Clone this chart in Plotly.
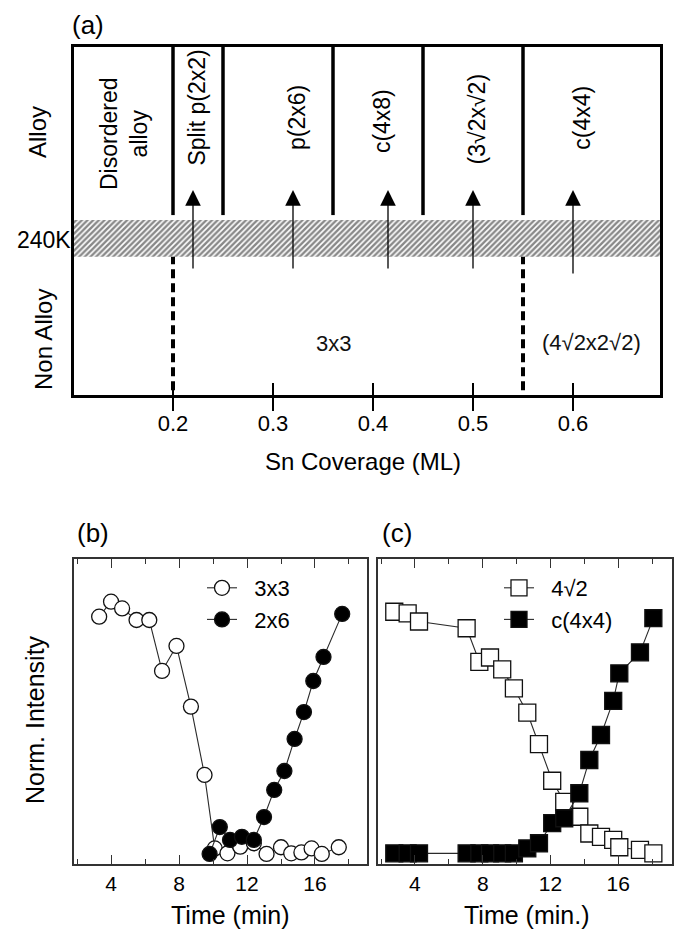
import plotly.graph_objects as go

W, H = 675, 934
FONT = "Liberation Sans, Arial, sans-serif"

# ---------------- Panel (a): phase diagram ----------------
cov_ticks = [0.2, 0.3, 0.4, 0.5, 0.6]
cov_range = [0.101, 0.687]
alloy_bounds = [0.2, 0.25, 0.36, 0.45, 0.55]      # solid boundaries (alloy phases)
nonalloy_bounds = [0.2, 0.55]                       # dashed boundaries (non-alloy phases)
band_240K = [0.397, 0.503]                          # hatched transition band (y units)
alloy_top = [0.517, 1.0]
nonalloy_span = [0.014, 0.397]
arrow_cov = [0.22, 0.32, 0.415, 0.50, 0.60]
arrow_tail = [0.359, 0.359, 0.359, 0.359, 0.345]
arrow_tip = 0.589
alloy_labels = ["Disordered<br>alloy", "Split p(2x2)", "p(2x6)", "c(4x8)", "(3√2x√2)", "c(4x4)"]
alloy_label_x = [0.151, 0.224, 0.324, 0.409, 0.504, 0.609]
alloy_label_y = [0.75, 0.826, 0.796, 0.787, 0.792, 0.797]
nonalloy_labels = ["3x3", "(4√2x2√2)"]
nonalloy_label_x = [0.36, 0.618]
nonalloy_label_y = [0.149, 0.152]

# ---------------- Panel (b) ----------------
t_3x3 = [3.3, 4.0, 4.65, 5.5, 6.25, 7.0, 7.85, 8.7, 9.5, 10.1, 10.85, 11.6, 12.4,
         13.15, 14.0, 14.6, 15.2, 15.8, 16.4, 17.4]
i_3x3 = [0.811, 0.860, 0.838, 0.800, 0.800, 0.633, 0.715, 0.516, 0.292, 0.051, 0.035,
         0.057, 0.068, 0.033, 0.055, 0.035, 0.038, 0.051, 0.033, 0.055]
t_2x6 = [9.8, 10.4, 11.0, 11.7, 12.4, 13.0, 13.6, 14.2, 14.8, 15.35, 15.9, 16.5, 17.6]
i_2x6 = [0.033, 0.121, 0.079, 0.089, 0.079, 0.154, 0.243, 0.305, 0.410, 0.498, 0.600,
         0.679, 0.820]

# ---------------- Panel (c) ----------------
t_c = [2.78, 3.57, 4.24, 7.05, 7.8, 8.43, 9.15, 9.84, 10.63, 11.32, 12.1, 12.81,
       13.7, 14.29, 14.98, 15.7, 16.06, 17.28, 18.07]
i_4r2 = [0.827, 0.822, 0.795, 0.773, 0.663, 0.677, 0.638, 0.576, 0.496, 0.393, 0.273,
         0.204, 0.155, 0.100, 0.089, 0.079, 0.055, 0.046, 0.035]
i_c44 = [0.035, 0.035, 0.035, 0.035, 0.035, 0.035, 0.035, 0.035, 0.051, 0.068, 0.134,
         0.150, 0.232, 0.341, 0.423, 0.535, 0.625, 0.694, 0.806]

time_ticks = [4, 8, 12, 16]
time_range_b = [1.82, 19.06]
time_range_c = [1.82, 19.17]


def px(x):
    return x / W


def py(y):
    return 1 - y / H


fig = go.Figure()

# hatched 240K band
fig.add_trace(go.Scatter(
    x=[cov_range[0] - 0.01, cov_range[1] + 0.01, cov_range[1] + 0.01, cov_range[0] - 0.01],
    y=[band_240K[0], band_240K[0], band_240K[1], band_240K[1]],
    fill="toself", mode="lines", line=dict(width=0, color="rgba(0,0,0,0)"),
    fillcolor="white",
    fillpattern=dict(shape="/", size=4, solidity=0.6, fgcolor="#111111", bgcolor="white"),
    xaxis="x", yaxis="y", showlegend=False, hoverinfo="skip"))
# empty trace for overlay tick axis
fig.add_trace(go.Scatter(x=[], y=[], xaxis="x4", yaxis="y", showlegend=False))

line_col = "#2a2a2a"
mk_line = dict(color="#111111", width=1.3)
NB = "\u00a0\u00a0"

fig.add_trace(go.Scatter(
    x=t_3x3, y=i_3x3, mode="lines+markers", name=NB + "3x3",
    line=dict(color=line_col, width=1.1),
    marker=dict(symbol="circle", size=15, color="white", line=mk_line),
    xaxis="x2", yaxis="y2", legend="legend"))
fig.add_trace(go.Scatter(
    x=t_2x6, y=i_2x6, mode="lines+markers", name=NB + "2x6",
    line=dict(color=line_col, width=1.1),
    marker=dict(symbol="circle", size=15, color="black", line=mk_line),
    xaxis="x2", yaxis="y2", legend="legend"))

fig.add_trace(go.Scatter(
    x=t_c, y=i_4r2, mode="lines+markers", name=NB + "4√2",
    line=dict(color=line_col, width=1.1),
    marker=dict(symbol="square", size=17, color="white", line=mk_line),
    xaxis="x3", yaxis="y3", legend="legend2"))
fig.add_trace(go.Scatter(
    x=t_c, y=i_c44, mode="lines+markers", name=NB + "c(4x4)",
    line=dict(color=line_col, width=1.1),
    marker=dict(symbol="square", size=17, color="black", line=mk_line),
    xaxis="x3", yaxis="y3", legend="legend2"))

shapes = []
for b in alloy_bounds:
    shapes.append(dict(type="line", xref="x", yref="y", x0=b, x1=b,
                       y0=alloy_top[0], y1=alloy_top[1],
                       line=dict(color="black", width=3.5)))
for b in nonalloy_bounds:
    shapes.append(dict(type="line", xref="x", yref="y", x0=b, x1=b,
                       y0=nonalloy_span[0], y1=nonalloy_span[1],
                       line=dict(color="black", width=4, dash="9px,5px")))

ann = []
for xa, tail in zip(arrow_cov, arrow_tail):
    ann.append(dict(x=xa, y=arrow_tip, ax=xa, ay=tail, xref="x", yref="y",
                    axref="x", ayref="y", text="", showarrow=True, arrowhead=2,
                    arrowsize=2.4, arrowwidth=1.3, arrowcolor="black"))
for t, xl, yl in zip(alloy_labels, alloy_label_x, alloy_label_y):
    ann.append(dict(x=xl, y=yl, xref="x", yref="y", text=t, showarrow=False,
                    textangle=-90, font=dict(size=23, color="black", family=FONT)))
for t, xl, yl in zip(nonalloy_labels, nonalloy_label_x, nonalloy_label_y):
    ann.append(dict(x=xl, y=yl, xref="x", yref="y", text=t, showarrow=False,
                    font=dict(size=22, color="#111", family=FONT)))

def paper_text(text, x, y, size, angle=0, xanchor="center"):
    ann.append(dict(x=px(x), y=py(y), xref="paper", yref="paper", text=text,
                    showarrow=False, textangle=angle, xanchor=xanchor, yanchor="middle",
                    font=dict(size=size, color="black", family=FONT)))

paper_text("(a)", 88, 25, 26)
paper_text("(b)", 93, 533, 26)
paper_text("(c)", 397, 533, 26)
paper_text("Alloy", 38, 132, 24, -90)
paper_text("Non Alloy", 43, 340, 24, -90)
paper_text("240K", 73, 240, 23, xanchor="right")
paper_text("Sn Coverage (ML)", 363, 462, 24)
paper_text("Norm. Intensity", 35, 720, 25, -90)
paper_text("Time (min)", 230, 915, 25)
paper_text("Time (min.)", 526, 915, 25)

frame_a = dict(showline=True, linecolor="black", linewidth=3, mirror=True,
               showgrid=False, zeroline=False)
frame_bc = dict(showline=True, linecolor="#333", linewidth=1.5, showgrid=False,
                zeroline=False)
time_axis = dict(frame_bc, mirror="ticks", tickmode="array", tickvals=time_ticks,
                 ticks="inside", ticklen=9, tickwidth=1.3, tickcolor="#333",
                 ticklabelstandoff=0,
                 minor=dict(dtick=2, tick0=0, ticks="inside", ticklen=5, tickwidth=1.2,
                            tickcolor="#333"),
                 tickfont=dict(size=21, color="black", family=FONT))

fig.update_layout(
    width=W, height=H, margin=dict(l=0, r=0, t=0, b=0),
    paper_bgcolor="white", plot_bgcolor="white",
    font=dict(family=FONT, color="black"),
    xaxis=dict(frame_a, domain=[px(74), px(660)], range=cov_range, anchor="y",
               tickmode="array", tickvals=cov_ticks, ticks="outside", ticklen=13,
               tickwidth=1.5, tickcolor="black", ticklabelstandoff=-6,
               tickfont=dict(size=22, color="black", family=FONT)),
    xaxis4=dict(overlaying="x", anchor="y", range=cov_range, tickmode="array",
                tickvals=cov_ticks, ticks="inside", ticklen=12, tickwidth=1.5,
                tickcolor="black", showticklabels=False, showline=False,
                showgrid=False, zeroline=False),
    yaxis=dict(frame_a, domain=[py(395), py(47)], range=[0, 1], anchor="x",
               showticklabels=False, ticks=""),
    xaxis2=dict(time_axis, domain=[px(74), px(367)], range=time_range_b, anchor="y2"),
    yaxis2=dict(frame_bc, mirror=True, domain=[py(864), py(559)], range=[0, 1],
                anchor="x2", showticklabels=False, ticks=""),
    xaxis3=dict(time_axis, domain=[px(378), px(672)], range=time_range_c, anchor="y3"),
    yaxis3=dict(frame_bc, mirror=True, domain=[py(864), py(559)], range=[0, 1],
                anchor="x3", showticklabels=False, ticks=""),
    legend=dict(x=px(202), y=py(567), xanchor="left", yanchor="top",
                bgcolor="rgba(0,0,0,0)", borderwidth=0, tracegroupgap=0,
                font=dict(size=22, color="black", family=FONT), itemsizing="trace"),
    legend2=dict(x=px(499), y=py(567), xanchor="left", yanchor="top",
                 bgcolor="rgba(0,0,0,0)", borderwidth=0, tracegroupgap=0,
                 font=dict(size=22, color="black", family=FONT), itemsizing="trace"),
    shapes=shapes, annotations=ann,
)

fig.write_html("out.html")
